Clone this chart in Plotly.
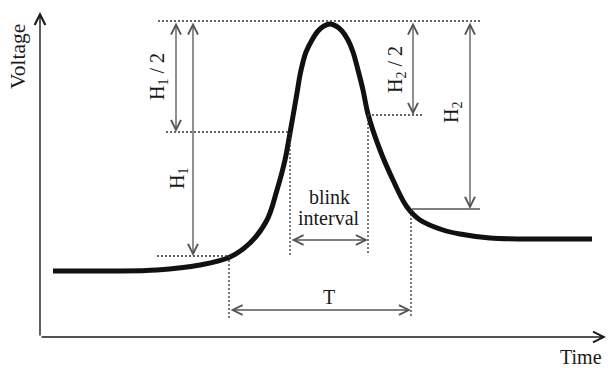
import plotly.graph_objects as go

# Blink waveform (time, voltage) sampled along the drawn pulse
curve_time = [13, 70, 117, 160, 190, 210, 227, 237, 245, 250, 257, 260, 263, 266,
              272, 278, 284, 290, 296, 302, 308, 313, 318, 323, 328, 340, 353, 367,
              380, 403, 420, 450, 500, 552]
curve_voltage = [66, 66, 67, 72, 80, 94, 117, 147, 177, 204, 244, 262, 275, 285,
                 297, 306, 311, 313, 311, 306, 297, 285, 267, 247, 223, 187, 157, 130,
                 117, 107, 103, 99, 98, 98]

# Reference levels (voltage) and instants (time) used by the measurement marks
v_peak = 316
v_half1 = 205
v_foot1 = 81
v_half2 = 222
v_foot2 = 128
t_foot1 = 189
t_half_rise = 250
t_half_fall = 328
t_knee = 371

# Positions of the measurement arrows
t_arrow_h1_half = 136
t_arrow_h1 = 153
t_arrow_h2_half = 373
t_arrow_h2 = 430
v_arrow_blink = 97
v_arrow_T = 27

# Axis extents
t_axis_end = 566
v_axis_end = 325

FONT = "Liberation Serif"
INK = "#1a1a1a"
GREY = "#555555"
DOT = "#333333"

fig = go.Figure()

fig.add_trace(go.Scatter(
    x=curve_time, y=curve_voltage, mode="lines",
    line=dict(color="#111111", width=5, shape="spline", smoothing=1.0),
    hoverinfo="skip", showlegend=False,
))


def dotted(x0, y0, x1, y1):
    fig.add_shape(type="line", x0=x0, y0=y0, x1=x1, y1=y1, xref="x", yref="y",
                  line=dict(color=DOT, width=1.3, dash="2px,2px"))


def arrow(x0, y0, x1, y1, color=GREY, width=1.3, both=True):
    fig.add_annotation(
        x=x1, y=y1, ax=x0, ay=y0, xref="x", yref="y", axref="x", ayref="y",
        text="", showarrow=True, arrowhead=5, startarrowhead=5,
        arrowside="end+start" if both else "end",
        arrowsize=1.5, startarrowsize=1.5, arrowwidth=width,
        arrowcolor=color, standoff=0, startstandoff=0,
    )


def label(x, y, text, angle=0, size=20):
    fig.add_annotation(x=x, y=y, xref="x", yref="y", text=text, showarrow=False,
                       textangle=angle, xanchor="center", yanchor="middle",
                       font=dict(family=FONT, size=size, color=INK))


# dotted guide lines
dotted(118, v_peak, 440, v_peak)
dotted(126, v_half1, t_half_rise - 2, v_half1)
dotted(117, v_foot1, t_foot1 - 1, v_foot1)
dotted(t_foot1, v_foot1, t_foot1, 19)
dotted(t_half_rise, v_half1 - 1, t_half_rise, 82)
dotted(t_half_fall, v_half2, t_half_fall, 82)
dotted(t_half_fall, v_half2, 383, v_half2)
dotted(t_knee, v_foot2 - 1, t_knee, 19)

# solid tick at the lower end of H2
fig.add_shape(type="line", x0=t_knee + 1, y0=v_foot2, x1=440, y1=v_foot2,
              xref="x", yref="y", line=dict(color=GREY, width=1.3))

# measurement arrows
arrow(t_arrow_h1_half, v_peak, t_arrow_h1_half, v_half1)
arrow(t_arrow_h1, v_peak, t_arrow_h1, v_foot1)
arrow(t_arrow_h2_half, v_peak, t_arrow_h2_half, v_half2)
arrow(t_arrow_h2, v_peak, t_arrow_h2, v_foot2)
arrow(t_half_rise, v_arrow_blink, t_half_fall, v_arrow_blink)
arrow(t_foot1, v_arrow_T, t_knee, v_arrow_T)

# axes with arrowheads
arrow(0, 0, 0, v_axis_end, color=INK, width=1.4, both=False)
arrow(0, 0, t_axis_end, 0, color=INK, width=1.4, both=False)

# text
label(-22, 280, "Voltage", angle=-90, size=21.5)
label(541, -20, "Time")
label(118, 260, "H<sub>1</sub> / 2", angle=-90)
label(138, 158, "H<sub>1</sub>", angle=-90)
label(356, 267, "H<sub>2</sub> / 2", angle=-90)
label(412, 224, "H<sub>2</sub>", angle=-90)
label(289, 140, "blink")
label(289, 119, "interval")
label(289, 40, "T")

fig.update_layout(
    width=608, height=368, autosize=False,
    margin=dict(l=0, r=0, t=0, b=0),
    paper_bgcolor="white", plot_bgcolor="white",
    xaxis=dict(range=[-40, 568], visible=False, fixedrange=True),
    yaxis=dict(range=[-31, 337], visible=False, fixedrange=True),
    showlegend=False,
)

fig.write_html("out.html", config={"displayModeBar": False})
